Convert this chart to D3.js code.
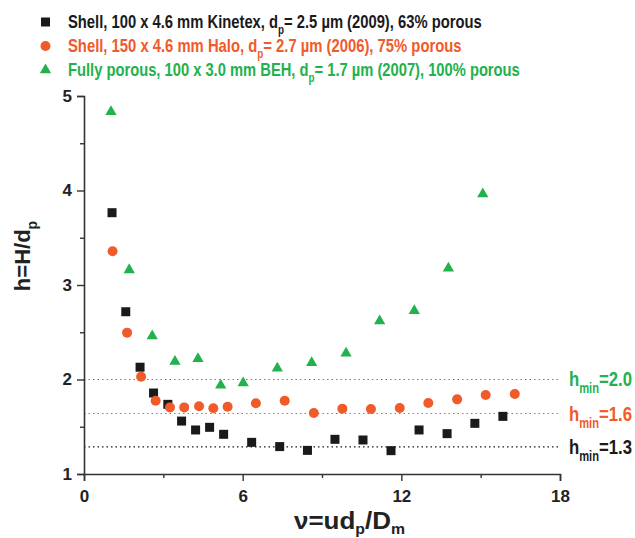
<!DOCTYPE html>
<html><head><meta charset="utf-8">
<script src="https://cdn.jsdelivr.net/npm/d3@7"></script>
<style>
body{margin:0;background:#fff;}
svg{display:block;font-family:"Liberation Sans",Arial,sans-serif;font-weight:bold;}
</style></head>
<body><svg id="c" width="635" height="538"></svg>
<script>
const kinetexX=[1.06,1.58,2.12,2.63,3.17,3.69,4.22,4.75,5.28,6.34,7.40,8.45,9.49,10.55,11.61,12.67,13.73,14.78,15.84];
const kinetexY=[3.765,2.717,2.13,1.857,1.737,1.56,1.466,1.494,1.42,1.335,1.29,1.25,1.367,1.36,1.247,1.466,1.427,1.536,1.61];
const haloX=[1.08,1.63,2.16,2.71,3.25,3.79,4.35,4.89,5.43,6.50,7.59,8.69,9.77,10.85,11.94,13.02,14.11,15.19,16.29];
const haloY=[3.357,2.496,2.03,1.776,1.705,1.705,1.716,1.695,1.712,1.748,1.776,1.645,1.691,1.688,1.698,1.751,1.79,1.836,1.847];
const behX=[1.02,1.71,2.58,3.44,4.31,5.17,6.02,7.31,8.61,9.91,11.18,12.49,13.78,15.08];
const behY=[4.834,3.16,2.46,2.19,2.22,1.94,1.963,2.12,2.178,2.277,2.62,2.728,3.177,3.963];
const hminValues=[2.0,1.64,1.286];
const hminLabels=["2.0","1.6","1.3"];
const seriesNames=["Shell, 100 x 4.6 mm Kinetex, d","Shell, 150 x 4.6 mm Halo, d","Fully porous, 100 x 3.0 mm BEH, d"];
const seriesTails=["= 2.5 µm (2009), 63% porous","= 2.7 µm (2006), 75% porous","= 1.7 µm (2007), 100% porous"];
const xTicks=[0,6,12,18], xMinor=[3,9,15];
const yTicks=[1,2,3,4,5], yMinor=[1.5,2.5,3.5,4.5];
const colors=["#1a1a1a","#f15a29","#22b14c"];

const svg=d3.select("#c");
const x=d3.scaleLinear().domain([0,18]).range([84,560]);
const y=d3.scaleLinear().domain([1,5]).range([474,96]);

function fit(t,w){
  const bb=t.node().getBBox();
  const s=w/bb.width;
  t.attr("transform",`translate(${bb.x},0) scale(${s},1) translate(${-bb.x},0)`);
}

hminValues.forEach((v,i)=>{
  const c=[colors[2],colors[1],colors[0]][i];
  svg.append("line").attr("x1",x(0)).attr("x2",x(18)-2).attr("y1",y(v)).attr("y2",y(v))
    .attr("stroke",c).attr("stroke-width",1.2).attr("stroke-dasharray","1.5,3");
  const t=svg.append("text").attr("x",569).attr("y",y(v)+7).attr("fill",c).style("font-size","21px");
  t.append("tspan").text("h");
  t.append("tspan").attr("dy",7).style("font-size","14px").text("min");
  t.append("tspan").attr("dy",-7).text("="+hminLabels[i]);
  fit(t,63);
});

const ax=svg.append("g").attr("transform",`translate(0,${y(1)})`)
  .call(d3.axisBottom(x).tickValues(xTicks).tickSize(7).tickPadding(9).tickFormat(d3.format("d")));
const axm=svg.append("g").attr("transform",`translate(0,${y(1)})`)
  .call(d3.axisBottom(x).tickValues(xMinor).tickSize(4).tickFormat(""));
const ay=svg.append("g").attr("transform",`translate(${x(0)},0)`)
  .call(d3.axisLeft(y).tickValues(yTicks).tickSize(7).tickPadding(5).tickFormat(d3.format("d")));
const aym=svg.append("g").attr("transform",`translate(${x(0)},0)`)
  .call(d3.axisLeft(y).tickValues(yMinor).tickSize(4).tickFormat(""));
[ax,axm,ay,aym].forEach(g=>{
  g.select(".domain").attr("stroke","#333").attr("stroke-width",1.6);
  g.selectAll(".tick line").attr("stroke","#333").attr("stroke-width",1.4);
  g.selectAll(".tick text").attr("fill","#222").style("font-size","17px").style("font-family","'Liberation Sans',Arial,sans-serif").style("font-weight","bold");
});
axm.select(".domain").remove(); aym.select(".domain").remove();

const yl=svg.append("text").attr("transform","translate(30,256) rotate(-90)").attr("text-anchor","middle").attr("fill","#222").style("font-size","22px");
yl.append("tspan").text("h=H/d");
yl.append("tspan").attr("dy",7).style("font-size","14px").text("p");
const xl=svg.append("text").attr("x",294).attr("y",529).attr("fill","#222").style("font-size","23px");
xl.append("tspan").text("ν=ud");
xl.append("tspan").attr("dy",5).style("font-size","14px").text("p");
xl.append("tspan").attr("dy",-5).text("/D");
xl.append("tspan").attr("dy",5).style("font-size","14px").text("m");
fit(xl,111);

const sq=9;
svg.append("g").selectAll("rect").data(kinetexX).join("rect")
  .attr("x",(d,i)=>x(d)-sq/2).attr("y",(d,i)=>y(kinetexY[i])-sq/2).attr("width",sq).attr("height",sq).attr("fill",colors[0]);
svg.append("g").selectAll("circle").data(haloX).join("circle")
  .attr("cx",d=>x(d)).attr("cy",(d,i)=>y(haloY[i])).attr("r",5).attr("fill",colors[1]);
const tri=d3.symbol().type(d3.symbolTriangle).size(55);
svg.append("g").selectAll("path").data(behX).join("path")
  .attr("d",tri).attr("transform",(d,i)=>`translate(${x(d)},${y(behY[i])})`).attr("fill",colors[2]);

const ly=[22,46,70];
const lw=[414,394,452];
svg.append("rect").attr("x",41).attr("y",ly[0]-4.5).attr("width",9).attr("height",9).attr("fill",colors[0]);
svg.append("circle").attr("cx",45.5).attr("cy",ly[1]).attr("r",5).attr("fill",colors[1]);
svg.append("path").attr("d",tri).attr("transform",`translate(45.5,${ly[2]})`).attr("fill",colors[2]);
seriesNames.forEach((n,i)=>{
  const t=svg.append("text").attr("x",68).attr("y",ly[i]+6.5).attr("fill",colors[i]).style("font-size","18px");
  t.append("tspan").text(n);
  t.append("tspan").attr("dy",6).style("font-size","12px").text("p");
  t.append("tspan").attr("dy",-6).text(seriesTails[i]);
  fit(t,lw[i]);
});
</script></body></html>
